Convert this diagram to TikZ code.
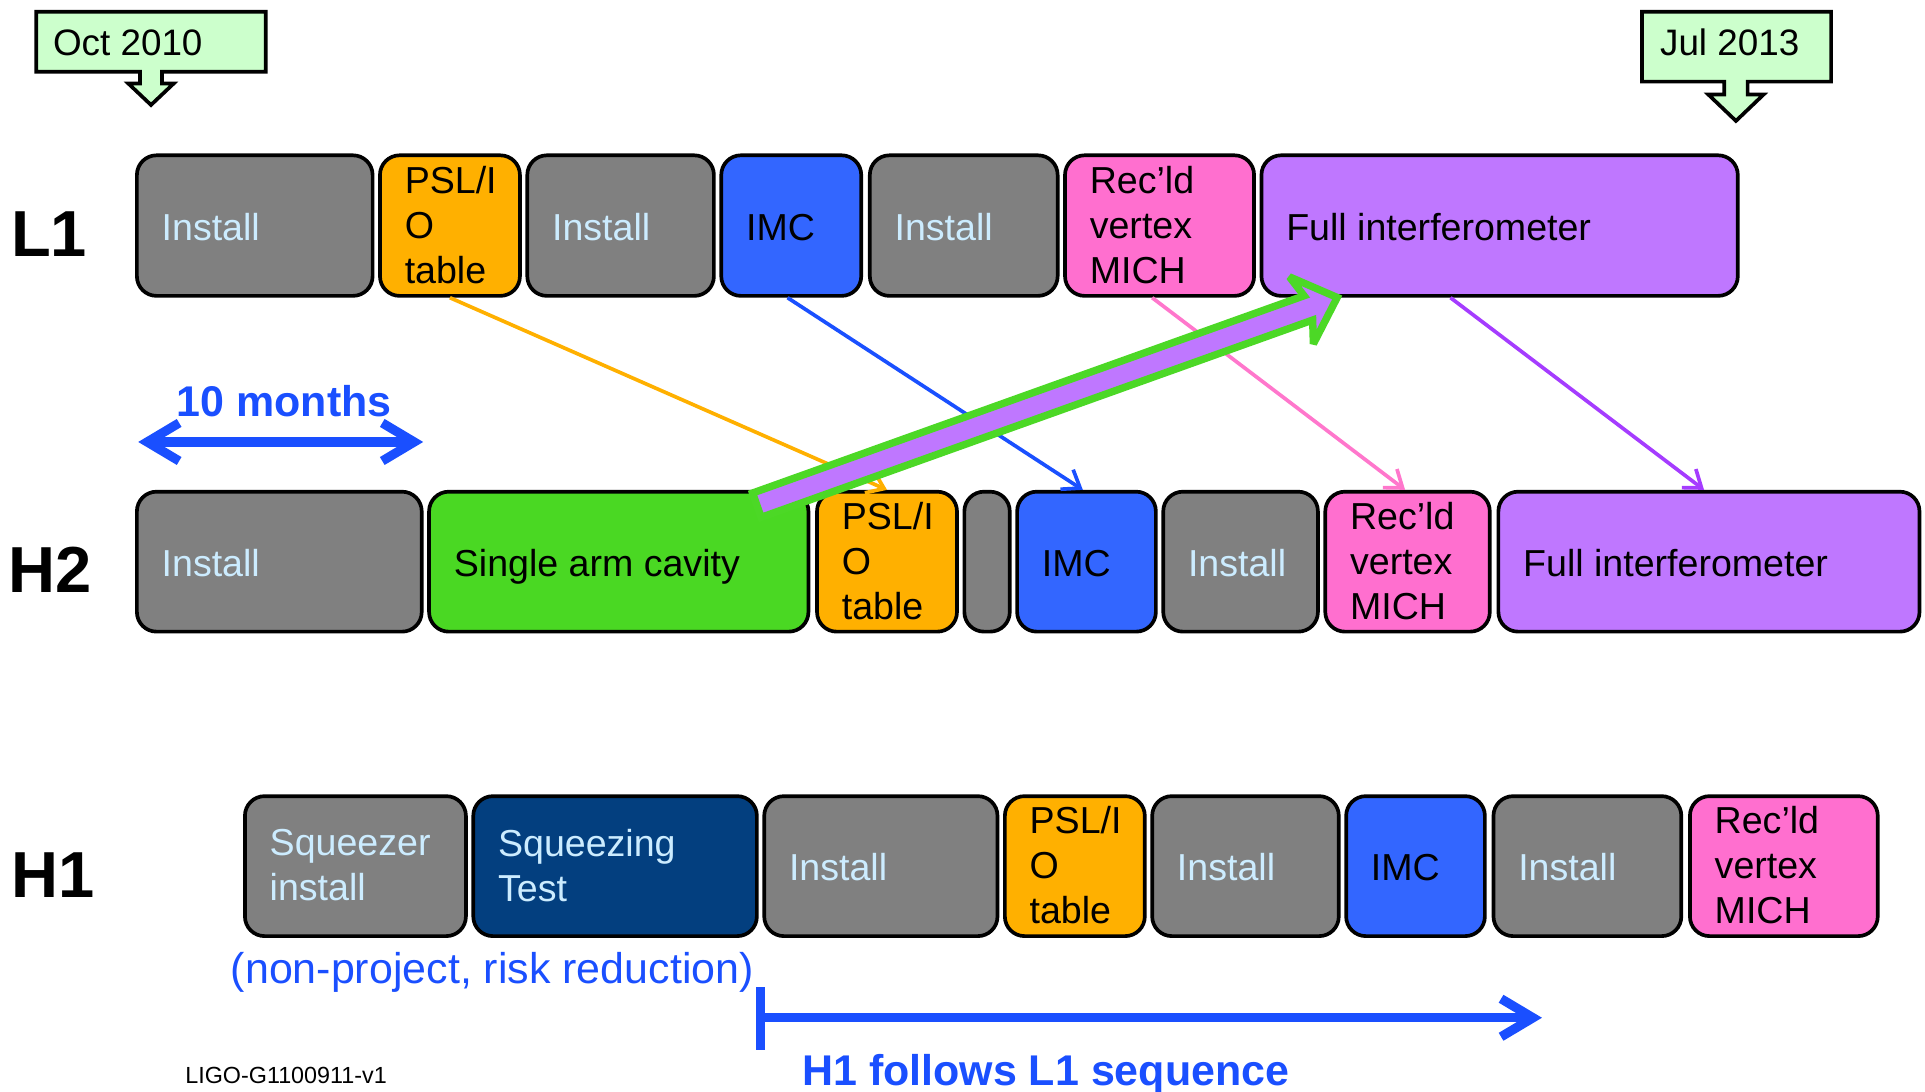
\documentclass[tikz,border=0pt]{standalone}
\usepackage{fontspec}
\setmainfont{Liberation Sans}
\usetikzlibrary{arrows.meta}

\definecolor{boxgray}{HTML}{808080}
\definecolor{boxtext}{HTML}{CCECFF}
\definecolor{pslorange}{HTML}{FFB000}
\definecolor{imcblue}{HTML}{3366FF}
\definecolor{recpink}{HTML}{FF6FCF}
\definecolor{fullpurple}{HTML}{BF77FF}
\definecolor{armgreen}{HTML}{4AD823}
\definecolor{navy}{HTML}{033F7F}
\definecolor{calloutgreen}{HTML}{CCFFCC}
\definecolor{annblue}{HTML}{1A4FFF}
\definecolor{lineorange}{HTML}{FFB000}
\definecolor{lineblue}{HTML}{1A50FF}
\definecolor{linepink}{HTML}{FF77CC}
\definecolor{linepurple}{HTML}{A53CFF}
\definecolor{outlinegreen}{HTML}{4CD826}

% one schedule block: name, left, right, top, bottom, fill, text colour, text
\newcommand\stagebox[8]{%
  \node[stage, fill=#6, minimum width={#3-#2-3}, minimum height={#5-#4-3}]
    (#1) at ({(#2+#3)/2},{(#4+#5)/2}) {};
  \node[stagetext, text=#7, anchor=west] (#1-t) at ([xshift=21.5pt]#1.west) {#8};
}

\begin{document}
\begin{tikzpicture}[x=1pt, y=-1pt,
  stage/.style={draw=black, line width=3pt, rounded corners=16pt, inner sep=0pt},
  stagetext/.style={font=\fontsize{30.6}{36.5}\selectfont, align=left, inner sep=0pt,
    execute at begin node=\strut, execute at end node=\strut, yshift=-4.7pt},
  rowlabel/.style={font=\bfseries\fontsize{53}{60}\selectfont, anchor=base west, inner sep=0pt},
  callout/.style={draw=black, fill=calloutgreen, line width=3pt, line join=miter},
  callouttext/.style={font=\fontsize{30}{36}\selectfont, anchor=base west, inner sep=0pt},
  link/.style={line width=3pt, -{Straight Barb[length=13pt,width=19pt]}},
  span/.style={line width=7.5pt, draw=annblue},
  note/.style={text=annblue, inner sep=0pt, anchor=base}
]
\useasboundingbox (0,0) rectangle (1568,889);

% date callouts
\draw[callout] (29.5,9.5) -- (216.5,9.5) -- (216.5,58.5) -- (132,58.5) -- (132,68)
  -- (141.5,68) -- (123,85.5) -- (104.5,68) -- (114,68) -- (114,58.5) -- (29.5,58.5) -- cycle;
\node[callouttext] (oct) at (43,44.8) {Oct 2010};
\draw[callout] (1337.5,9.5) -- (1491.5,9.5) -- (1491.5,66.5) -- (1423.5,66.5) -- (1423.5,77)
  -- (1436.5,77) -- (1414,98.5) -- (1391.5,77) -- (1404.5,77) -- (1404.5,66.5) -- (1337.5,66.5) -- cycle;
\node[callouttext] (jul) at (1352,44.8) {Jul 2013};

% row labels
\node[rowlabel] (lblL1) at (8.8,209) {L1};
\node[rowlabel] (lblH2) at (6.4,483) {H2};
\node[rowlabel] (lblH1) at (9.1,731) {H1};

% L1 sequence
\stagebox{l1a}{110}{305}{125}{242.5}{boxgray}{boxtext}{Install}
\stagebox{l1psl}{308}{425}{125}{242.5}{pslorange}{black}{PSL/I\\O\\table}
\stagebox{l1b}{428}{583}{125}{242.5}{boxgray}{boxtext}{Install}
\stagebox{l1imc}{586}{703}{125}{242.5}{imcblue}{black}{IMC}
\stagebox{l1c}{707}{863}{125}{242.5}{boxgray}{boxtext}{Install}
\stagebox{l1rec}{866}{1023}{125}{242.5}{recpink}{black}{Rec’ld\\vertex\\MICH}
\stagebox{l1full}{1026}{1417}{125}{242.5}{fullpurple}{black}{Full interferometer}

% H2 sequence
\stagebox{h2a}{110}{345}{399}{516}{boxgray}{boxtext}{Install}
\stagebox{h2arm}{348}{660}{399}{516}{armgreen}{black}{Single arm cavity}
\stagebox{h2psl}{664}{781}{399}{516}{pslorange}{black}{PSL/I\\O\\table}
\stagebox{h2gap}{784}{824}{399}{516}{boxgray}{boxtext}{}
\stagebox{h2imc}{827}{943}{399}{516}{imcblue}{black}{IMC}
\stagebox{h2b}{946}{1075}{399}{516}{boxgray}{boxtext}{Install}
\stagebox{h2rec}{1078}{1215}{399}{516}{recpink}{black}{Rec’ld\\vertex\\MICH}
\stagebox{h2full}{1219}{1565}{399}{516}{fullpurple}{black}{Full interferometer}

% H1 sequence
\stagebox{h1sq}{198}{381}{647}{764}{boxgray}{boxtext}{Squeezer\\install}
\stagebox{h1test}{384}{618}{647}{764}{navy}{boxtext}{Squeezing\\Test}
\stagebox{h1a}{621}{814}{647}{764}{boxgray}{boxtext}{Install}
\stagebox{h1psl}{817}{934}{647}{764}{pslorange}{black}{PSL/I\\O\\table}
\stagebox{h1b}{937}{1092}{647}{764}{boxgray}{boxtext}{Install}
\stagebox{h1imc}{1095}{1211}{647}{764}{imcblue}{black}{IMC}
\stagebox{h1c}{1215}{1371}{647}{764}{boxgray}{boxtext}{Install}
\stagebox{h1rec}{1375}{1531}{647}{764}{recpink}{black}{Rec’ld\\vertex\\MICH}

% L1 stages carried over to H2
\draw[link, lineorange] (l1psl.south) -- (h2psl.north);
\draw[link, lineblue] ([xshift=-3pt]l1imc.south) -- ([xshift=-3pt]h2imc.north);
\draw[link, linepink] ([xshift=-6pt]l1rec.south) -- ([xshift=-2pt]h2rec.north);
\draw[link, linepurple] ([xshift=-40pt]l1full.south) -- ([xshift=-4pt]h2full.north);

% duration scale
\coordinate (tenL) at (112.6,360);
\coordinate (tenR) at (344.7,360);
\draw[span, {Straight Barb[length=26pt,width=31pt]}-{Straight Barb[length=26pt,width=31pt]}] (tenL) -- (tenR);
\node[note, font=\bfseries\fontsize{35}{40}\selectfont] (tenmo) at (231.5,339.4) {10 months};

% H1 follows L1
\coordinate (folBarTop) at (619.5,804);
\coordinate (folBarBot) at (619.5,855);
\coordinate (folStart) at (619.5,829);
\coordinate (folEnd) at (1256,829);
\draw[span] (folBarTop) -- (folBarBot);
\draw[span, -{Straight Barb[length=26pt,width=31pt]}] (folStart) -- (folEnd);
\node[note, font=\bfseries\fontsize{35}{40}\selectfont] (follows) at (851.8,884) {H1 follows L1 sequence};

\node[note, font=\fontsize{35}{40}\selectfont] (risk) at (401,801) {(non-project, risk reduction)};
\node[inner sep=0pt, anchor=base, font=\fontsize{19}{22}\selectfont] (docid) at (233,882.4) {LIGO-G1100911-v1};

% single arm cavity feeding the L1 full interferometer
\draw[fill=fullpurple, draw=outlinegreen, line width=6pt, line join=miter, miter limit=2]
  (613.0,401.6) -- (1062.2,240.9) -- (1050.3,225.5) -- (1089.2,242.3)
  -- (1069.8,280.1) -- (1069.2,260.7) -- (620.0,421.4) -- cycle;
\end{tikzpicture}
\end{document}
